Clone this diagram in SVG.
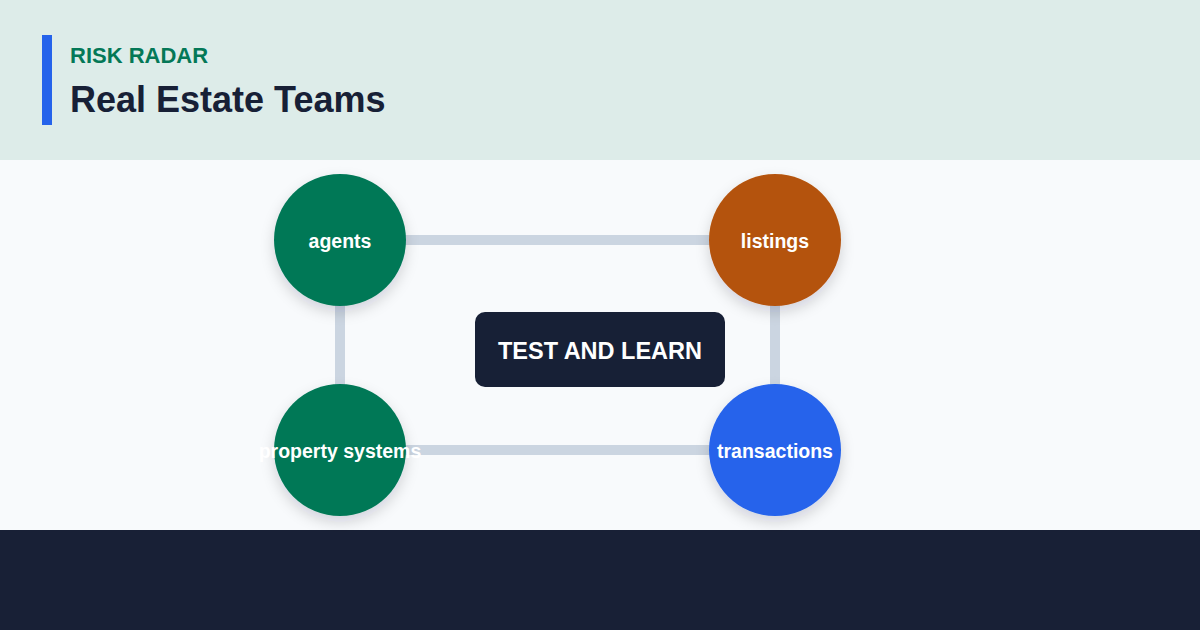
<svg xmlns="http://www.w3.org/2000/svg" width="1200" height="630" viewBox="0 0 1200 630">
<style>
.lbl{font-family:"Liberation Sans",Arial,sans-serif;font-weight:bold;fill:#ffffff;text-anchor:middle;}
.node{font-size:19.5px;}
.conn{stroke:#cbd5e1;stroke-width:10;fill:none;}
</style>
<defs>
<filter id="sh" x="-30%" y="-30%" width="160%" height="160%">
<feDropShadow dx="0" dy="6" stdDeviation="7" flood-color="#0f172a" flood-opacity="0.16"/>
</filter>
</defs>
<rect x="0" y="0" width="1200" height="160" fill="#ddece9"/>
<rect x="0" y="160" width="1200" height="370" fill="#f8fafc"/>
<rect x="0" y="530" width="1200" height="100" fill="#182036"/>
<g id="header">
<rect x="42" y="35" width="10" height="90" fill="#2563eb"/>
<text x="70" y="63" font-family="'Liberation Sans',Arial,sans-serif" font-weight="bold" font-size="22" fill="#047857">RISK RADAR</text>
<text x="70" y="112" font-family="'Liberation Sans',Arial,sans-serif" font-weight="bold" font-size="36" fill="#172036">Real Estate Teams</text>
</g>
<g id="connectors">
<line class="conn" x1="340" y1="240" x2="775" y2="240"/>
<line class="conn" x1="340" y1="240" x2="340" y2="450"/>
<line class="conn" x1="775" y1="240" x2="775" y2="450"/>
<line class="conn" x1="340" y1="450" x2="775" y2="450"/>
</g>
<g id="center">
<rect x="475" y="312" width="250" height="75" rx="10" fill="#172036"/>
<text class="lbl" x="600" y="358.5" font-size="23.5">TEST AND LEARN</text>
</g>
<g id="agents">
<circle cx="340" cy="240" r="66" fill="#047857" filter="url(#sh)"/>
<text class="lbl node" x="340" y="247.5">agents</text>
</g>
<g id="listings">
<circle cx="775" cy="240" r="66" fill="#b45309" filter="url(#sh)"/>
<text class="lbl node" x="775" y="247.5">listings</text>
</g>
<g id="property-systems">
<circle cx="340" cy="450" r="66" fill="#047857" filter="url(#sh)"/>
<text class="lbl node" x="340" y="457.5">property systems</text>
</g>
<g id="transactions">
<circle cx="775" cy="450" r="66" fill="#2563eb" filter="url(#sh)"/>
<text class="lbl node" x="775" y="457.5">transactions</text>
</g>
</svg>
